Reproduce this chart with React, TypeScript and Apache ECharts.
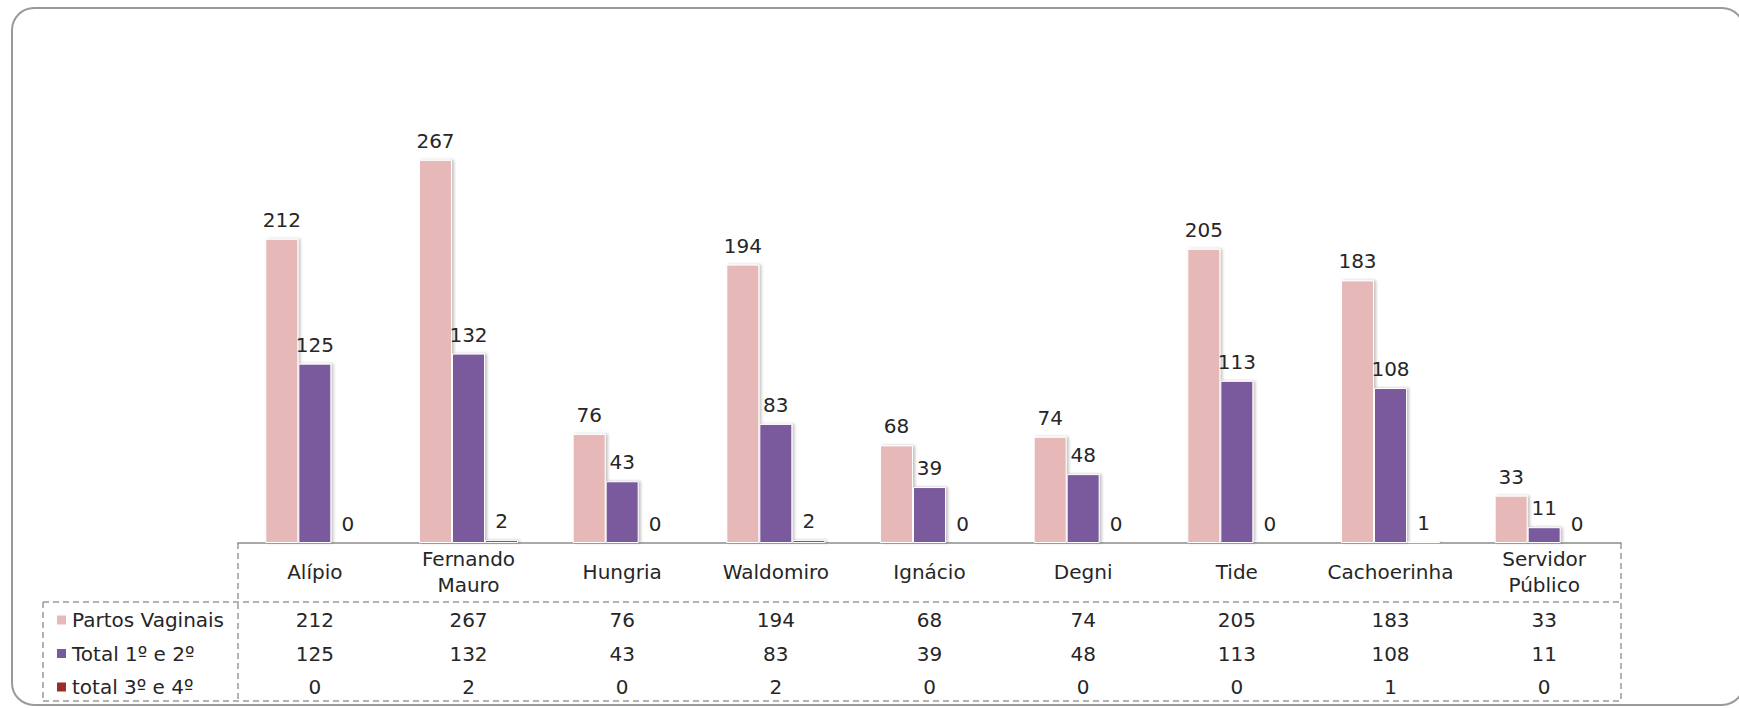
import React, { useEffect, useRef } from "react";
import * as echarts from "echarts";

const categories = [
  "Alípio",
  "Fernando\nMauro",
  "Hungria",
  "Waldomiro",
  "Ignácio",
  "Degni",
  "Tide",
  "Cachoerinha",
  "Servidor\nPúblico",
];
const seriesNames = ["Partos Vaginais", "Total 1º e 2º", "total 3º e 4º"];
const partosVaginais = [212, 267, 76, 194, 68, 74, 205, 183, 33];
const total1e2 = [125, 132, 43, 83, 39, 48, 113, 108, 11];
const total3e4 = [0, 2, 0, 2, 0, 0, 0, 1, 0];
const seriesData = [partosVaginais, total1e2, total3e4];
const colors = ["#E6B8B7", "#7A5A9C", "#9B2C28"];

const FONT = "DejaVu Sans";
const TEXT = "#262626";
const FS = 20;

export default function App() {
  const ref = useRef<HTMLDivElement>(null);
  useEffect(() => {
    if (!ref.current) return;
    const chart = echarts.init(ref.current, undefined, { renderer: "svg" });
    const gridLeft = 238;
    const gridRight = 1621;
    const base = 543;
    const rowCenters = [620, 653.5, 687];
    const dash = { stroke: "#9a9a9a", lineWidth: 1.5, lineDash: [6, 4] };
    const option: any = {
      animation: false,
      backgroundColor: "#ffffff",
      grid: { left: gridLeft, right: 1739 - gridRight, top: 112.5, bottom: 708 - base },
      legend: {
        orient: "vertical",
        left: 55,
        top: rowCenters[0] - 11,
        padding: 0,
        itemGap: 11.5,
        itemWidth: 11,
        itemHeight: 11,
        icon: "rect",
        data: seriesNames,
        textStyle: { fontFamily: FONT, fontSize: FS, color: TEXT, lineHeight: 22 },
      },
      yAxis: { type: "value", min: 0, max: 300, show: false },
      xAxis: [
        {
          type: "category",
          data: categories,
          position: "bottom",
          axisLine: { show: true, lineStyle: { color: "#8c8c8c", width: 1.5 } },
          axisTick: { show: false },
          axisLabel: {
            interval: 0,
            margin: 29,
            verticalAlign: "middle",
            fontFamily: FONT,
            fontSize: FS,
            lineHeight: 26,
            color: TEXT,
          },
        },
        ...seriesData.map((arr, k) => ({
          type: "category",
          data: categories,
          position: "bottom",
          offset: 0,
          axisLine: { show: false },
          axisTick: { show: false },
          splitLine: { show: false },
          axisLabel: {
            interval: 0,
            margin: rowCenters[k] - base,
            verticalAlign: "middle",
            fontFamily: FONT,
            fontSize: FS,
            color: TEXT,
            formatter: (_v: string, i: number) => String(arr[i]),
          },
        })),
      ],
      series: seriesData.map((arr, k) => ({
        name: seriesNames[k],
        type: "bar",
        data: arr,
        xAxisIndex: 0,
        barWidth: 33,
        barGap: "0%",
        itemStyle: {
          color: colors[k],
          borderColor: "#ffffff",
          borderWidth: 1,
          shadowColor: "rgba(0,0,0,0.25)",
          shadowBlur: 3,
          shadowOffsetX: 2,
          shadowOffsetY: 0,
        },
        label: {
          show: true,
          position: "top",
          distance: 9,
          fontFamily: FONT,
          fontSize: FS,
          color: TEXT,
        },
      })),
      graphic: [
        {
          type: "rect",
          shape: { x: 12, y: 8, width: 1732, height: 697, r: 22 },
          style: { fill: "none", stroke: "#9a9a9a", lineWidth: 2 },
          silent: true,
        },
        { type: "line", shape: { x1: gridLeft, y1: base, x2: gridLeft, y2: 701 }, style: dash },
        { type: "line", shape: { x1: gridRight, y1: base, x2: gridRight, y2: 701 }, style: dash },
        { type: "line", shape: { x1: 43, y1: 602, x2: 43, y2: 701 }, style: dash },
        { type: "line", shape: { x1: 43, y1: 602, x2: gridRight, y2: 602 }, style: dash },
        { type: "line", shape: { x1: 43, y1: 701, x2: gridRight, y2: 701 }, style: dash },
      ],
    };
    chart.setOption(option);
    return () => chart.dispose();
  }, []);
  return (
    <div
      ref={ref}
      style={{ position: "fixed", left: 0, top: 0, width: 1739, height: 708 }}
    />
  );
}
